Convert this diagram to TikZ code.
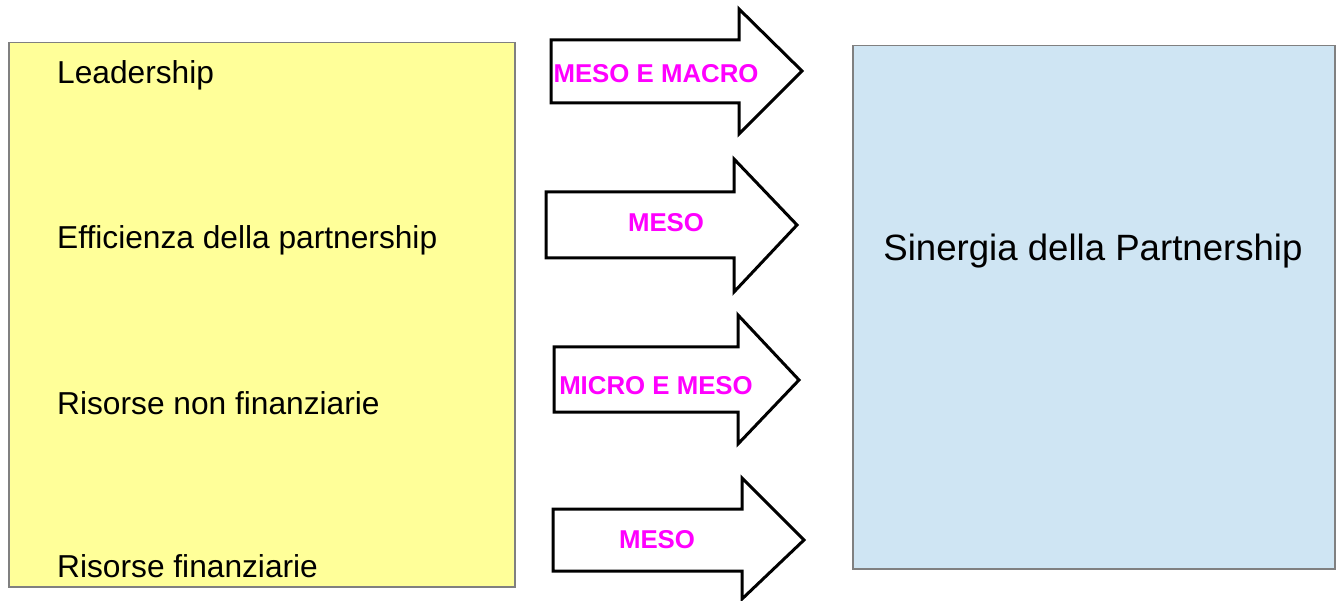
\documentclass[tikz,border=0pt]{standalone}
\usepackage{fontspec}
\setmainfont{Liberation Sans}
\definecolor{boxyellow}{RGB}{255,255,153}
\definecolor{boxblue}{RGB}{207,229,243}
\definecolor{boxborder}{RGB}{128,128,128}
\definecolor{lblmag}{RGB}{255,0,255}
\begin{document}
\begin{tikzpicture}[x=1pt,y=-1pt,
  panel/.style={draw=boxborder,line width=1.5pt,inner sep=0pt,anchor=north west},
  item/.style={anchor=west,inner sep=0pt,font=\fontsize{31.7}{37}\selectfont},
  blockarrow/.style={draw=black,fill=white,line width=3pt,line join=miter},
  arrlabel/.style={inner sep=0pt,text=lblmag,font=\fontsize{25.8}{30}\selectfont\bfseries}]
\useasboundingbox (0,0) rectangle (1338,601);
% left panel
\node[panel,fill=boxyellow,minimum width=506pt,minimum height=544pt] (left) at (8,42) {};
\node[item] (t1) at (57,75) {Leadership};
\node[item] (t2) at (57,240) {Efficienza della partnership};
\node[item] (t3) at (57,403) {Risorse non finanziarie};
\node[item] (t4) at (57,566) {Risorse finanziarie};
% right panel
\node[panel,fill=boxblue,minimum width=482pt,minimum height=523pt] (right) at (852,45) {};
\node[inner sep=0pt,font=\fontsize{36.6}{42}\selectfont] (syn) at (1093,251) {Sinergia della Partnership};
% block arrows
\draw[blockarrow] (551,40) -- (739,40) -- (739,9) -- (802,71) -- (739,134) -- (739,103) -- (551,103) -- cycle;
\draw[blockarrow] (546,192) -- (734,192) -- (734,159) -- (797,225) -- (734,292) -- (734,258) -- (546,258) -- cycle;
\draw[blockarrow] (554,347) -- (738,347) -- (738,315) -- (799,380) -- (738,444) -- (738,412) -- (554,412) -- cycle;
\draw[blockarrow] (553,509) -- (742,509) -- (742,478) -- (804,540) -- (742,599) -- (742,571) -- (553,571) -- cycle;
\node[arrlabel] (a1) at (656,74) {MESO E MACRO};
\node[arrlabel] (a2) at (666,223) {MESO};
\node[arrlabel] (a3) at (656,386) {MICRO E MESO};
\node[arrlabel] (a4) at (657,540) {MESO};
\end{tikzpicture}
\end{document}
